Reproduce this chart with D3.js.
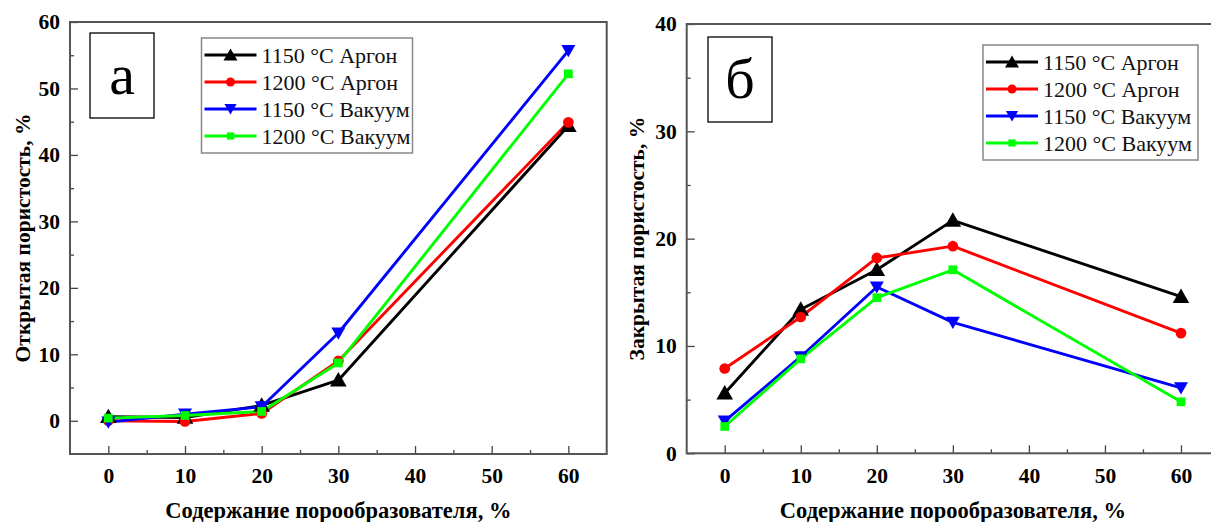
<!DOCTYPE html>
<html>
<head>
<meta charset="utf-8">
<script src="https://cdn.jsdelivr.net/npm/d3@7"></script>
<style>
  html, body { margin: 0; padding: 0; background: #fff; }
  svg { display: block; font-family: "Liberation Serif", "DejaVu Serif", serif; }
</style>
</head>
<body>
<svg id="chart" width="1211" height="522"></svg>
<script>
// Porogen content, % (x values shared by both panels)
const porogenContent = [0, 10, 20, 30, 60];

// Series names as shown in the legends
const seriesNames = ["1150 °C Аргон", "1200 °C Аргон", "1150 °C Вакуум", "1200 °C Вакуум"];

// Open porosity, %
const openArgon1150  = [0.6, 0.5, 2.3, 6.1, 44.4];
const openArgon1200  = [0.0, -0.1, 1.1, 9.0, 44.9];
const openVacuum1150 = [-0.2, 1.0, 2.1, 13.2, 55.7];
const openVacuum1200 = [0.4, 0.8, 1.4, 8.7, 52.2];

// Closed porosity, %
const closedArgon1150  = [5.6, 13.4, 17.1, 21.7, 14.6];
const closedArgon1200  = [7.9, 12.7, 18.2, 19.3, 11.2];
const closedVacuum1150 = [3.0, 9.0, 15.5, 12.2, 6.1];
const closedVacuum1200 = [2.5, 8.8, 14.5, 17.1, 4.8];

// Axis ticks
const xTicks = [0, 10, 20, 30, 40, 50, 60];
const xMinorTicks = [5, 15, 25, 35, 45, 55];
const openYTicks = [0, 10, 20, 30, 40, 50, 60];
const openYMinorTicks = [5, 15, 25, 35, 45, 55];
const closedYTicks = [0, 10, 20, 30, 40];
const closedYMinorTicks = [5, 15, 25, 35];

const colors = ["#000000", "#ff0000", "#0000ff", "#00ff00"];
const markerTypes = ["triangle", "circle", "triangleDown", "square"];
const serif = "'Liberation Serif', 'DejaVu Serif', serif";

const svg = d3.select("#chart");

function markerPath(type, size) {
  if (type === "circle") return d3.symbol(d3.symbolCircle, size)();
  if (type === "square") return d3.symbol(d3.symbolSquare, size)();
  return d3.symbol(d3.symbolTriangle, size)();
}

function drawMarker(g, type, x, y, color, size) {
  const p = g.append("path")
    .attr("d", markerPath(type, size))
    .attr("fill", color)
    .attr("stroke", "none");
  const rot = type === "triangleDown" ? " rotate(180)" : "";
  const dy = type === "triangle" ? 1.5 : (type === "triangleDown" ? -1.5 : 0);
  p.attr("transform", `translate(${x},${y + dy})${rot}`);
}

function drawPanel(cfg) {
  const g = svg.append("g");
  const x = d3.scaleLinear().domain([-5, 65]).range([cfg.left, cfg.right]);
  const y = d3.scaleLinear().domain(cfg.yDomain).range([cfg.bottom, cfg.top]);

  // minor ticks
  g.append("g")
    .attr("transform", `translate(0,${cfg.bottom})`)
    .call(d3.axisBottom(x).tickValues(xMinorTicks).tickSize(-4).tickFormat(""))
    .call(a => a.select(".domain").remove())
    .call(a => a.selectAll("line").attr("stroke", "#444").attr("stroke-width", 1.3));
  g.append("g")
    .attr("transform", `translate(${cfg.left},0)`)
    .call(d3.axisLeft(y).tickValues(cfg.yMinor).tickSize(-4).tickFormat(""))
    .call(a => a.select(".domain").remove())
    .call(a => a.selectAll("line").attr("stroke", "#444").attr("stroke-width", 1.3));

  // major ticks with labels
  const xa = g.append("g")
    .attr("transform", `translate(0,${cfg.bottom})`)
    .call(d3.axisBottom(x).tickValues(xTicks).tickSize(-8).tickPadding(14).tickFormat(d3.format("d")));
  const ya = g.append("g")
    .attr("transform", `translate(${cfg.left},0)`)
    .call(d3.axisLeft(y).tickValues(cfg.yTicks).tickSize(-8).tickPadding(10).tickFormat(d3.format("d")));
  [xa, ya].forEach(a => {
    a.attr("font-family", serif);
    a.select(".domain").remove();
    a.selectAll("line").attr("stroke", "#444").attr("stroke-width", 1.3);
    a.selectAll("text")
      .attr("fill", "#000")
      .style("font-family", serif)
      .style("font-size", "21.5px")
      .style("font-weight", "bold");
  });

  // plot frame
  g.append("rect")
    .attr("x", cfg.left).attr("y", cfg.top)
    .attr("width", cfg.right - cfg.left).attr("height", cfg.bottom - cfg.top)
    .attr("fill", "none").attr("stroke", "#555").attr("stroke-width", 2);

  // series lines
  const line = d3.line().x((d, i) => x(porogenContent[i])).y(d => y(d));
  cfg.series.forEach((vals, s) => {
    g.append("path")
      .datum(vals)
      .attr("d", line)
      .attr("fill", "none")
      .attr("stroke", colors[s])
      .attr("stroke-width", 2.9)
      .attr("stroke-linejoin", "round");
  });
  // markers
  const sizes = { triangle: 120, circle: 90, triangleDown: 85, square: 76 };
  cfg.series.forEach((vals, s) => {
    vals.forEach((v, i) => {
      drawMarker(g, markerTypes[s], x(porogenContent[i]), y(v), colors[s], sizes[markerTypes[s]]);
    });
  });

  // panel letter box
  g.append("rect")
    .attr("x", cfg.letterBox[0]).attr("y", cfg.letterBox[1])
    .attr("width", cfg.letterBox[2]).attr("height", cfg.letterBox[3])
    .attr("fill", "#fff").attr("stroke", "#000").attr("stroke-width", 1.3);
  g.append("text")
    .attr("x", cfg.letterBox[0] + cfg.letterBox[2] / 2)
    .attr("y", cfg.letterBox[1] + cfg.letterBox[3] / 2 + 18)
    .attr("text-anchor", "middle")
    .style("font-family", serif)
    .style("font-size", "58px")
    .text(cfg.letter);

  // legend
  const lg = g.append("g");
  const L = cfg.legend;
  lg.append("rect")
    .attr("x", L.x).attr("y", L.y).attr("width", L.w).attr("height", L.h)
    .attr("fill", "#fff").attr("stroke", "#888").attr("stroke-width", 1.5);
  seriesNames.forEach((name, s) => {
    const cy = L.y + 17 + s * 27;
    lg.append("line")
      .attr("x1", L.x + 3).attr("x2", L.x + 55)
      .attr("y1", cy).attr("y2", cy)
      .attr("stroke", colors[s]).attr("stroke-width", 2.9);
    const lsizes = { triangle: 85, circle: 64, triangleDown: 64, square: 52 };
    drawMarker(lg, markerTypes[s], L.x + 29, cy, colors[s], lsizes[markerTypes[s]]);
    lg.append("text")
      .attr("x", L.x + 60).attr("y", cy + 7.5)
      .attr("fill", "#111")
      .style("font-family", serif)
      .style("font-size", "22px")
      .text(name);
  });

  // axis titles
  g.append("text")
    .attr("x", (x(-5) + x(65)) / 2)
    .attr("y", 518)
    .attr("text-anchor", "middle")
    .style("font-family", serif)
    .style("font-size", "22.5px").style("font-weight", "bold")
    .text("Содержание порообразователя, %");
  g.append("text")
    .attr("transform", `translate(${cfg.yTitleX},${(cfg.top + cfg.bottom) / 2}) rotate(-90)`)
    .attr("text-anchor", "middle")
    .style("font-family", serif)
    .style("font-size", "21.5px").style("font-weight", "bold")
    .text(cfg.yTitle);
}

drawPanel({
  left: 70, right: 606.7, top: 22, bottom: 454,
  yDomain: [-5, 60], yTicks: openYTicks, yMinor: openYMinorTicks,
  series: [openArgon1150, openArgon1200, openVacuum1150, openVacuum1200],
  letter: "а", letterBox: [90, 33, 64, 85],
  legend: { x: 201.5, y: 38, w: 211, h: 115 },
  yTitle: "Открытая пористость, %", yTitleX: 30
});

drawPanel({
  left: 686.7, right: 1219, top: 24, bottom: 453.3,
  yDomain: [0, 40], yTicks: closedYTicks, yMinor: closedYMinorTicks,
  series: [closedArgon1150, closedArgon1200, closedVacuum1150, closedVacuum1200],
  letter: "б", letterBox: [708, 37, 64, 85],
  legend: { x: 983, y: 45, w: 215, h: 115 },
  yTitle: "Закрытая пористость, %", yTitleX: 644
});
</script>
</body>
</html>
